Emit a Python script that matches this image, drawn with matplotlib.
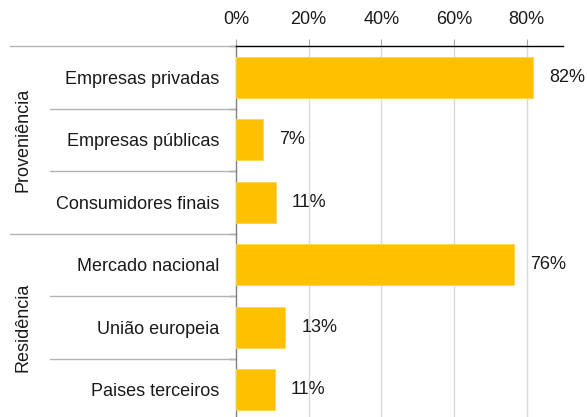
import matplotlib
matplotlib.use("Agg")
import matplotlib.pyplot as plt
import matplotlib.transforms as mtransforms

plt.rcParams['font.family'] = ['Liberation Sans', 'DejaVu Sans']

categories = ["Empresas privadas", "Empresas públicas", "Consumidores finais",
              "Mercado nacional", "União europeia", "Paises terceiros"]
values = [0.818, 0.075, 0.11, 0.765, 0.136, 0.106]
value_labels = ["82%", "7%", "11%", "76%", "13%", "11%"]
groups = ["Proveniência", "Residência"]
group_sizes = [3, 3]
xticks = [0, 0.2, 0.4, 0.6, 0.8]
xtick_labels = ["0%", "20%", "40%", "60%", "80%"]

W, H = 587, 417
FS = 13
fig = plt.figure(figsize=(W / 100, H / 100), dpi=100)
ax_left, ax_right, ax_top, ax_bottom = 236, 563, 46, 421
ax = fig.add_axes([ax_left / W, (H - ax_bottom) / H,
                   (ax_right - ax_left) / W, (ax_bottom - ax_top) / H])

n = len(categories)
ypos = list(range(n))
ax.barh(ypos, values, height=0.66, color="#FFC000", edgecolor="#FFD54A",
        linewidth=0.6, zorder=3)
ax.set_ylim(n - 0.5, -0.5)
ax.set_xlim(0, 0.9)

for y, v, lab in zip(ypos, values, value_labels):
    ax.annotate(lab, xy=(v, y), xytext=(11.5, 0), textcoords="offset points",
                va="center", ha="left", fontsize=FS, color="#1a1a1a")

ax.xaxis.tick_top()
ax.set_xticks(xticks)
ax.set_xticklabels(xtick_labels, fontsize=FS, color="#1a1a1a")
ax.tick_params(axis="x", length=5, color="#a6a6a6", pad=8)
for xt in xticks[1:]:
    ax.axvline(xt, color="#d9d9d9", linewidth=1, zorder=1)

ax.set_yticks([i - 0.5 for i in range(n)], minor=False)
ax.set_yticklabels([])
ax.tick_params(axis="y", length=5, color="#808080", width=1)
ax.set_yticks(ypos, minor=True)
ax.set_yticklabels(categories, minor=True, fontsize=FS, color="#1a1a1a")
ax.tick_params(axis="y", which="minor", length=0, pad=12)

for s in ["right", "bottom"]:
    ax.spines[s].set_visible(False)
ax.spines["top"].set_color("black")
ax.spines["top"].set_linewidth(1)
ax.spines["left"].set_color("#808080")
ax.spines["left"].set_linewidth(1)

trans = mtransforms.blended_transform_factory(ax.transAxes, ax.transData)
axw = ax_right - ax_left
x_outer = (10 - ax_left) / axw
x_inner = (50 - ax_left) / axw
start = 0
for g, size in zip(groups, group_sizes):
    ax.plot([x_outer, 0], [start - 0.5, start - 0.5], transform=trans,
            color="#b3b3b3", linewidth=1, clip_on=False)
    for k in range(1, size):
        yy = start + k - 0.5
        ax.plot([x_inner, 0], [yy, yy], transform=trans,
                color="#b3b3b3", linewidth=1, clip_on=False)
    center = start + (size - 1) / 2
    ax.text((23 - ax_left) / axw, center, g, transform=trans, rotation=90,
            ha="center", va="center", fontsize=FS, color="#1a1a1a")
    start += size

fig.savefig("out.png", dpi=100)
